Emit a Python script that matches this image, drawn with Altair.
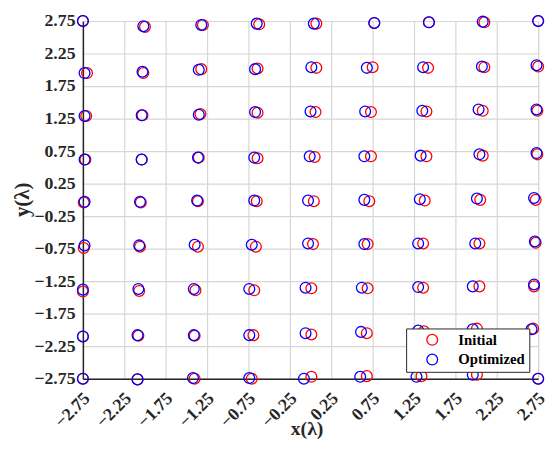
import altair as alt
import pandas as pd

# Tick values shared by both axes
tick_values = [-2.75, -2.25, -1.75, -1.25, -0.75, -0.25, 0.25, 0.75, 1.25, 1.75, 2.25, 2.75]
series_names = ["Initial", "Optimized"]
series_colors = ["#ff0000", "#0000ff"]

# Initial element positions (rows top to bottom, columns left to right)
init_x = [
    -2.75, -2.00, -1.30, -0.62, 0.07, 0.77, 1.43, 2.10, 2.75,
    -2.70, -2.02, -1.32, -0.64, 0.07, 0.75, 1.42, 2.10, 2.75,
    -2.71, -2.03, -1.33, -0.64, 0.06, 0.73, 1.40, 2.08, 2.74,
    -2.72, -2.04, -1.35, -0.64, 0.05, 0.73, 1.40, 2.08, 2.74,
    -2.74, -2.05, -1.36, -0.65, 0.04, 0.71, 1.38, 2.05, 2.72,
    -2.74, -2.06, -1.36, -0.66, 0.03, 0.69, 1.36, 2.04, 2.72,
    -2.75, -2.07, -1.39, -0.68, 0.01, 0.69, 1.36, 2.04, 2.70,
    -2.75, -2.08, -1.40, -0.69, 0.01, 0.68, 1.37, 2.01, 2.69,
    -2.75, -2.09, -1.40, -0.71, 0.01, 0.68, 1.34, 2.01, 2.75,
]
init_y = [
    2.75, 2.66, 2.69, 2.70, 2.71, 2.72, 2.73, 2.73, 2.75,
    1.95, 1.95, 2.01, 2.02, 2.03, 2.04, 2.03, 2.04, 2.05,
    1.29, 1.30, 1.32, 1.34, 1.35, 1.35, 1.36, 1.37, 1.37,
    0.62, 0.62, 0.65, 0.64, 0.66, 0.67, 0.67, 0.68, 0.70,
    -0.04, -0.04, -0.02, -0.02, -0.02, -0.02, -0.01, 0.00, 0.00,
    -0.74, -0.72, -0.72, -0.72, -0.68, -0.68, -0.67, -0.67, -0.66,
    -1.41, -1.40, -1.39, -1.39, -1.36, -1.36, -1.35, -1.33, -1.33,
    -2.10, -2.09, -2.09, -2.08, -2.07, -2.05, -2.02, -1.98, -1.98,
    -2.75, -2.76, -2.75, -2.75, -2.72, -2.71, -2.71, -2.69, -2.75,
]

# Optimized element positions
opt_x = [
    -2.75, -2.02, -1.32, -0.65, 0.04, 0.77, 1.43, 2.08, 2.75,
    -2.73, -2.03, -1.35, -0.67, 0.01, 0.68, 1.36, 2.07, 2.73,
    -2.73, -2.04, -1.35, -0.67, 0.00, 0.66, 1.35, 2.03, 2.73,
    -2.73, -2.04, -1.36, -0.68, -0.01, 0.65, 1.33, 2.04, 2.73,
    -2.73, -2.06, -1.37, -0.68, -0.03, 0.65, 1.32, 2.01, 2.70,
    -2.73, -2.07, -1.40, -0.71, -0.03, 0.65, 1.30, 1.99, 2.71,
    -2.75, -2.08, -1.41, -0.74, -0.06, 0.62, 1.30, 1.96, 2.70,
    -2.75, -2.09, -1.41, -0.74, -0.06, 0.61, 1.30, 1.96, 2.67,
    -2.75, -2.09, -1.42, -0.74, -0.08, 0.60, 1.28, 1.96, 2.75,
]
opt_y = [
    2.75, 2.67, 2.69, 2.71, 2.71, 2.72, 2.73, 2.74, 2.75,
    1.95, 1.97, 2.00, 2.01, 2.04, 2.03, 2.04, 2.05, 2.07,
    1.29, 1.30, 1.31, 1.35, 1.36, 1.36, 1.37, 1.39, 1.39,
    0.62, 0.62, 0.65, 0.65, 0.67, 0.67, 0.68, 0.70, 0.72,
    -0.03, -0.03, -0.01, -0.01, -0.01, 0.00, 0.01, 0.02, 0.03,
    -0.70, -0.70, -0.69, -0.69, -0.67, -0.68, -0.67, -0.67, -0.64,
    -1.38, -1.37, -1.37, -1.37, -1.35, -1.35, -1.34, -1.33, -1.30,
    -2.10, -2.08, -2.08, -2.08, -2.05, -2.03, -2.01, -1.99, -1.99,
    -2.75, -2.76, -2.74, -2.74, -2.75, -2.72, -2.72, -2.69, -2.75,
]

df = pd.concat([
    pd.DataFrame({"x": init_x, "y": init_y, "series": series_names[0]}),
    pd.DataFrame({"x": opt_x, "y": opt_y, "series": series_names[1]}),
], ignore_index=True)
df["order"] = range(len(df))

FONT = "Liberation Serif"
DARK = "#262626"

x_axis = alt.Axis(
    values=tick_values, format=".2f", ticks=False,
    labelAngle=-45, labelAlign="right", labelBaseline="middle",
    labelPadding=17, labelOffset=4,
    labelFont=FONT, labelFontSize=18, labelFontWeight="bold", labelColor=DARK,
    domainColor=DARK, domainWidth=1.5,
    gridColor="#d6d6d6", gridWidth=1.2,
    title="x(λ)", titleFont=FONT, titleFontSize=20, titleFontWeight="bold", titleColor=DARK,
    titleBaseline="alphabetic", titleY=57, titleX=227,
    labelOverlap=False,
)
y_axis = alt.Axis(
    values=tick_values, format=".2f", ticks=False,
    labelPadding=8,
    labelFont=FONT, labelFontSize=18, labelFontWeight="bold", labelColor=DARK,
    domainColor=DARK, domainWidth=1.5,
    gridColor="#d6d6d6", gridWidth=1.2,
    title="y(λ)", titleFont=FONT, titleFontSize=21, titleFontWeight="bold", titleColor=DARK,
    titleBaseline="middle", titleX=-61, titleY=181,
    labelOverlap=False,
)

chart = alt.Chart(df).mark_point(
    filled=False, shape="circle", size=120, strokeWidth=1.3, opacity=1
).encode(
    x=alt.X("x:Q", scale=alt.Scale(domain=[-2.75, 2.75], nice=False, zero=False), axis=x_axis),
    y=alt.Y("y:Q", scale=alt.Scale(domain=[-2.75, 2.75], nice=False, zero=False), axis=y_axis),
    color=alt.Color(
        "series:N",
        scale=alt.Scale(domain=series_names, range=series_colors),
        legend=alt.Legend(
            title=None, orient="none", legendX=328, legendY=312,
            strokeColor=DARK, fillColor="white", padding=4, rowPadding=3,
            labelFont=FONT, labelFontSize=15, labelFontWeight="bold", labelColor="black",
            symbolType="circle", symbolSize=120, symbolStrokeWidth=1.3,
            symbolOffset=15, labelOffset=19, cornerRadius=0,
        ),
    ),
    order="order:Q",
).properties(
    width=462, height=363,
    autosize=alt.AutoSizeParams(type="none"),
    padding={"left": 76, "top": 10, "right": 12, "bottom": 61},
).configure_view(
    stroke=DARK, strokeWidth=1.5
).configure(background="white")

chart.save("out.html", embed_options={"renderer": "svg", "actions": False})
